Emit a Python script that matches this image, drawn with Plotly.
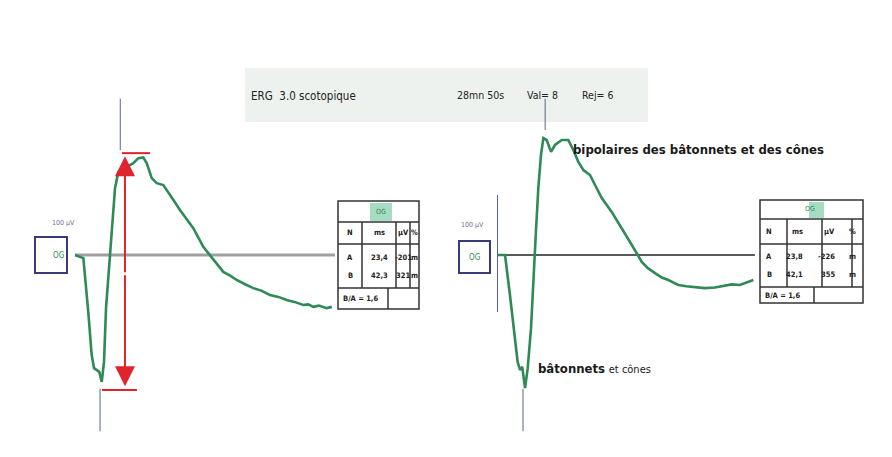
import plotly.graph_objects as go

W, H = 892, 457

# ---------------- data ----------------
# Left ERG (OG) : time in ms, amplitude in µV
left_t = [0, 7.8, 12.4, 15.6, 17.8, 22.7, 25.0, 27.1, 29.0, 31.1, 34.3, 37.4, 40.5, 44.0, 48.3, 54.5,
          59.2, 63.8, 67.0, 71.7, 76.4, 82.5, 87.2, 92.0, 98.1, 104.0, 110.6, 119.9, 129.3, 138.6, 145.0,
          151.1, 158.0, 166.6, 174.0, 182.2, 190.0, 197.9, 205.0, 213.4, 218.0, 222.7, 228.0, 235.2, 240.0]
left_v = [0, -5, -91, -160, -181, -187, -203, -171, -85, -37, 43, 107, 133, 136, 141, 147,
          155, 156, 147, 123, 115, 112, 101, 88, 72, 58, 43, 13, -8, -27, -33,
          -40, -46, -53, -57, -64, -67, -72, -75, -80, -79, -83, -81, -85, -83]

# Right ERG (OG)
right_t = [0, 7.5, 12.1, 16.2, 19.3, 21.5, 23.6, 26.2, 28.7, 31.8, 34.3, 36.2, 38.6, 41.1, 43.3, 46.4,
           50.5, 54.2, 60.5, 66.6, 71.3, 76.0, 80.7, 86.9, 91.6, 97.9, 107.2, 116.6, 126.0, 135.3,
           141.0, 147.7, 154.0, 160.1, 169.4, 177.0, 185.0, 194.0, 203.7, 211.0, 219.3, 227.0, 234.9, 239.6]
right_v = [0, 0, -64, -128, -171, -184, -179, -213, -181, -117, -43, 32, 107, 160, 187, 184,
           165, 176, 184, 184, 168, 149, 136, 128, 112, 91, 69, 43, 16, -11,
           -21, -29, -36, -40, -48, -50, -51, -53, -52, -50, -47, -48, -43, -40]

cursor_left = [23.4, 42.3]
cursor_right = [24.3, 45.0]

title_text = "ERG  3.0 scotopique"
info_texts = ["28mn 50s", "Val= 8", "Rej= 6"]

table_left = [["N", "ms", "µV", "%"], ["A", "23,4", "-201", "m"], ["B", "42,3", "321", "m"]]
table_right = [["N", "ms", "µV", "%"], ["A", "23,8", "-226", "m"], ["B", "42,1", "355", "m"]]
ratio_left = "B/A = 1,6"
ratio_right = "B/A = 1,6"

label_b = "bipolaires des bâtonnets et des cônes"
label_a_bold = "bâtonnets"
label_a_rest = "et cônes"

GREEN = "#2f8a55"
RED = "#e0242c"
NAVY = "#3a3a78"
BLUE = "#5a5fb0"
FONT = "DejaVu Sans Condensed"


def px(x):
    return x / W


def py(y):
    return 1 - y / H


fig = go.Figure()
fig.add_trace(go.Scatter(x=left_t, y=left_v, mode="lines", line=dict(color=GREEN, width=2.6),
                         xaxis="x", yaxis="y", hoverinfo="skip"))
fig.add_trace(go.Scatter(x=right_t, y=right_v, mode="lines", line=dict(color=GREEN, width=2.6),
                         xaxis="x2", yaxis="y2", hoverinfo="skip"))

shapes = []
ann = []

# baselines
shapes.append(dict(type="line", xref="x", yref="y", x0=0, x1=243, y0=0, y1=0,
                   line=dict(color="#a0a0a0", width=3), layer="below"))
shapes.append(dict(type="line", xref="x2", yref="y2", x0=0, x1=241, y0=0, y1=0,
                   line=dict(color="#5a5a5a", width=2), layer="below"))

# blue scale bars
shapes.append(dict(type="line", xref="x", yref="y", x0=-1.8, x1=-1.8, y0=91, y1=-91,
                   line=dict(color=BLUE, width=2)))
shapes.append(dict(type="line", xref="x2", yref="y2", x0=0, x1=0, y0=96, y1=-91,
                   line=dict(color=BLUE, width=2)))

# cursors
for xr, yr, cur in [("x", "y", cursor_left), ("x2", "y2", cursor_right)]:
    shapes.append(dict(type="line", xref=xr, yref=yr, x0=cur[0], x1=cur[0], y0=-214, y1=-282,
                       line=dict(color="#5b6680", width=1)))
    shapes.append(dict(type="line", xref=xr, yref=yr, x0=cur[1], x1=cur[1], y0=168 if xr == "x" else 200,
                       y1=250, line=dict(color="#5b6680", width=1)))

# red double arrow with caps (left panel)
shapes.append(dict(type="line", xref="x", yref="y", x0=43.9, x1=70.1, y0=163, y1=163,
                   line=dict(color=RED, width=2)))
shapes.append(dict(type="line", xref="x", yref="y", x0=25.2, x1=57.9, y0=-216, y1=-216,
                   line=dict(color=RED, width=2)))
ann.append(dict(xref="x", yref="y", axref="x", ayref="y", x=46.7, y=158, ax=46.7, ay=-30,
                showarrow=True, arrowhead=2, arrowsize=2.0, arrowwidth=2, arrowcolor=RED, text=""))
ann.append(dict(xref="x", yref="y", axref="x", ayref="y", x=46.7, y=-210, ax=46.7, ay=-30,
                showarrow=True, arrowhead=2, arrowsize=2.0, arrowwidth=2, arrowcolor=RED, text=""))

# OG boxes + 100 µV labels
for (bx0, bx1, by0, by1, lx, ly) in [(35, 67, 237, 273, 50, 223), (459, 490, 241, 273, 472, 225)]:
    shapes.append(dict(type="rect", xref="paper", yref="paper", x0=px(bx0), x1=px(bx1), y0=py(by1), y1=py(by0),
                       line=dict(color=NAVY, width=2), fillcolor="white"))
    ann.append(dict(xref="paper", yref="paper", x=px((bx0 + bx1) / 2), y=py((by0 + by1) / 2), text="OG",
                    showarrow=False, font=dict(family=FONT, size=8, color=GREEN)))
    ann.append(dict(xref="paper", yref="paper", x=px(lx), y=py(ly), text="100 µV",
                    showarrow=False, font=dict(family=FONT, size=7, color="#707090")))

# title banner
shapes.append(dict(type="rect", xref="paper", yref="paper", x0=px(245), x1=px(648), y0=py(122), y1=py(68),
                   line=dict(width=0), fillcolor="#eef2ee", layer="below"))
ann.append(dict(xref="paper", yref="paper", x=px(249), y=py(87), xanchor="left", text=title_text,
                showarrow=False, font=dict(family=FONT, size=11.5, color="#222222")))
for txt, xx in zip(info_texts, [455, 525, 580]):
    ann.append(dict(xref="paper", yref="paper", x=px(xx), y=py(87), xanchor="left", text=txt,
                    showarrow=False, font=dict(family=FONT, size=10.5, color="#222222")))


def add_table(x0, cols, rows_y, data, ratio, green):
    x_right = cols[-1]
    ytop, yh, ych, ydata, ybot = rows_y
    line = dict(color="#333333", width=1.5)
    # green OG cell
    shapes.append(dict(type="rect", xref="paper", yref="paper", x0=px(green[0]), x1=px(green[1]),
                       y0=py(yh - 1), y1=py(ytop + 2), line=dict(width=0), fillcolor="#a6dcc2"))
    ann.append(dict(xref="paper", yref="paper", x=px((green[0] + green[1]) / 2), y=py((ytop + yh) / 2),
                    text="OG", showarrow=False, font=dict(family=FONT, size=7, color=GREEN)))
    # outer
    shapes.append(dict(type="rect", xref="paper", yref="paper", x0=px(x0), x1=px(x_right), y0=py(ybot), y1=py(ytop),
                       line=line))
    for yy in [yh, ych, ydata]:
        shapes.append(dict(type="line", xref="paper", yref="paper", x0=px(x0), x1=px(x_right), y0=py(yy), y1=py(yy),
                           line=line))
    for cx in cols[1:-1]:
        shapes.append(dict(type="line", xref="paper", yref="paper", x0=px(cx), x1=px(cx), y0=py(ydata), y1=py(yh),
                           line=line))
    shapes.append(dict(type="line", xref="paper", yref="paper", x0=px(cols[2] - 8), x1=px(cols[2] - 8),
                       y0=py(ybot), y1=py(ydata), line=line))
    edges = [x0] + cols[1:]
    centers = [(edges[i] + edges[i + 1]) / 2 for i in range(len(edges) - 1)]
    row_ys = [(yh + ych) / 2, ych + (ydata - ych) * 0.3, ych + (ydata - ych) * 0.72]
    for r, row in enumerate(data):
        for c, cell in enumerate(row):
            ann.append(dict(xref="paper", yref="paper", x=px(centers[c]), y=py(row_ys[r]), text="<b>%s</b>" % cell,
                            showarrow=False, font=dict(family=FONT, size=7.5, color="#222222")))
    ann.append(dict(xref="paper", yref="paper", x=px(x0 + 3), y=py((ydata + ybot) / 2), xanchor="left",
                    text="<b>%s</b>" % ratio, showarrow=False, font=dict(family=FONT, size=7.5, color="#222222")))


add_table(338, [338, 362, 396, 410, 419], (201, 222, 244, 288, 309), table_left, ratio_left, (370, 392))
add_table(760, [760, 787, 822, 852, 863], (200, 219, 244, 287, 303), table_right, ratio_right, (809, 824))

# wave labels
ann.append(dict(xref="paper", yref="paper", x=px(571), y=py(140), xanchor="left", text="<b>%s</b>" % label_b,
                showarrow=False, font=dict(family=FONT, size=13, color="#1a1a1a")))
ann.append(dict(xref="paper", yref="paper", x=px(536), y=py(378), xanchor="left",
                text="<b>%s</b> <span style='font-size:11px'>%s</span>" % (label_a_bold, label_a_rest),
                showarrow=False, font=dict(family=FONT, size=13, color="#1a1a1a")))

ax_common = dict(visible=False, showgrid=False, zeroline=False, fixedrange=True)
fig.update_layout(
    width=W, height=H,
    margin=dict(l=0, r=0, t=0, b=0),
    paper_bgcolor="white", plot_bgcolor="rgba(0,0,0,0)",
    showlegend=False,
    xaxis=dict(domain=[px(75), px(335)], range=[0, 243], **ax_common),
    yaxis=dict(domain=[0, 1], range=[-323.2, 408], **ax_common),
    xaxis2=dict(domain=[px(497), px(755)], range=[0, 241.1], anchor="y2", **ax_common),
    yaxis2=dict(domain=[0, 1], range=[-323.2, 408], anchor="x2", **ax_common),
    shapes=shapes, annotations=ann,
)

fig.write_html("out.html", config={"displayModeBar": False},
               post_script="document.body.style.margin='0';document.body.style.overflow='hidden';")
